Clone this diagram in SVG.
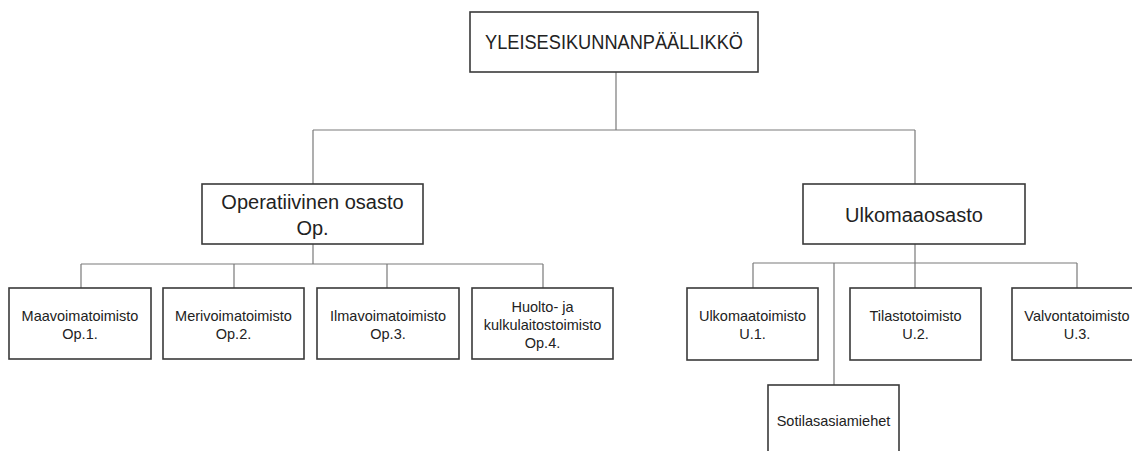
<svg xmlns="http://www.w3.org/2000/svg" width="1132" height="451" viewBox="0 0 1132 451">
<style>
  .box { fill: #ffffff; stroke: #3a3a3a; stroke-width: 1.6; }
  .conn { fill: none; stroke: #7a7a7a; stroke-width: 1.2; }
  text { font-family: "Liberation Sans", Arial, sans-serif; fill: #222222; text-anchor: middle; }
  .big { font-size: 20px; }
  .small { font-size: 14.5px; }
</style>
<rect width="1132" height="451" fill="#ffffff"/>
<g id="connectors">
  <path class="conn" d="M616,72 V130 M313,130 H915 M313,130 V184 M915,130 V184"/>
  <path class="conn" d="M313,244 V264 M81,264 H543 M81,264 V288 M234,264 V288 M387,264 V288 M543,264 V288"/>
  <path class="conn" d="M915,244 V288 M753,263 H1077 M753,263 V288 M1077,263 V288 M834,263 V385"/>
</g>
<g id="yleisesikunnanpaallikko">
  <rect class="box" x="470" y="12" width="288" height="60"/>
  <text class="big" x="614" y="49" font-size="21" textLength="258" lengthAdjust="spacingAndGlyphs">YLEISESIKUNNANPÄÄLLIKKÖ</text>
</g>
<g id="operatiivinen">
  <rect class="box" x="202" y="184" width="221" height="60"/>
  <text class="big" x="312.5" y="209" font-size="21">Operatiivinen osasto</text>
  <text class="big" x="312.5" y="235" font-size="21">Op.</text>
</g>
<g id="ulkomaaosasto">
  <rect class="box" x="803" y="184" width="222" height="60"/>
  <text class="big" x="914" y="222">Ulkomaaosasto</text>
</g>
<g id="op1">
  <rect class="box" x="9" y="288" width="142" height="71"/>
  <text class="small" x="80" y="321">Maavoimatoimisto</text>
  <text class="small" x="80" y="339">Op.1.</text>
</g>
<g id="op2">
  <rect class="box" x="163" y="288" width="141" height="71"/>
  <text class="small" x="233.5" y="321">Merivoimatoimisto</text>
  <text class="small" x="233.5" y="339">Op.2.</text>
</g>
<g id="op3">
  <rect class="box" x="317" y="288" width="142" height="71"/>
  <text class="small" x="388" y="321">Ilmavoimatoimisto</text>
  <text class="small" x="388" y="339">Op.3.</text>
</g>
<g id="op4">
  <rect class="box" x="472" y="288" width="141" height="71"/>
  <text class="small" x="542.5" y="312">Huolto- ja</text>
  <text class="small" x="542.5" y="330">kulkulaitostoimisto</text>
  <text class="small" x="542.5" y="348">Op.4.</text>
</g>
<g id="u1">
  <rect class="box" x="687" y="288" width="131" height="72"/>
  <text class="small" x="752.5" y="321">Ulkomaatoimisto</text>
  <text class="small" x="752.5" y="339">U.1.</text>
</g>
<g id="u2">
  <rect class="box" x="850" y="288" width="131" height="72"/>
  <text class="small" x="915.5" y="321">Tilastotoimisto</text>
  <text class="small" x="915.5" y="339">U.2.</text>
</g>
<g id="u3">
  <rect class="box" x="1012" y="288" width="131" height="72"/>
  <text class="small" x="1077" y="321">Valvontatoimisto</text>
  <text class="small" x="1077" y="339">U.3.</text>
</g>
<g id="sotilasasiamiehet">
  <rect class="box" x="768" y="385" width="131" height="75"/>
  <text class="small" x="833.5" y="426">Sotilasasiamiehet</text>
</g>
</svg>
